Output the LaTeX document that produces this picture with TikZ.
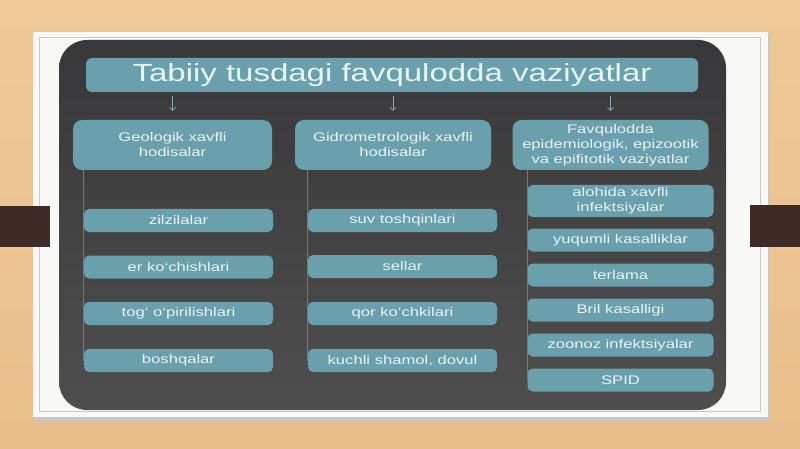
\documentclass[tikz,border=0pt]{standalone}
\usepackage{fontspec}
\setmainfont[FakeStretch=1.33]{Liberation Sans}
\usetikzlibrary{arrows.meta}
\definecolor{wood}{HTML}{E9C08C}
\definecolor{woodlight}{HTML}{EEC897}
\definecolor{framebg}{HTML}{F8F8F6}
\definecolor{frameline}{HTML}{C9C9C6}
\definecolor{paneltop}{HTML}{38383A}
\definecolor{panelbot}{HTML}{4E4E4E}
\definecolor{boxfill}{HTML}{6A9FAC}
\definecolor{boxtext}{HTML}{E6F5F7}
\definecolor{tab}{HTML}{3D2B27}
\definecolor{arrowc}{HTML}{8FA9AE}
\definecolor{linec}{HTML}{4E8A88}
\tikzset{
  hdrbox/.style={rounded corners=9pt, fill=boxfill, text=boxtext, align=center,
    inner sep=0pt, font=\fontsize{12.5}{15}\selectfont},
  itembox/.style={rounded corners=5pt, fill=boxfill, text=boxtext, align=center,
    inner sep=0pt, font=\fontsize{12.5}{15}\selectfont},
  titlebox/.style={rounded corners=6pt, fill=boxfill, text=boxtext, align=center,
    inner sep=0pt, font=\fontsize{24.8}{28}\selectfont},
  downarrow/.style={draw=arrowc, line width=0.7pt, -{Straight Barb[length=3pt,width=6pt]}},
  connline/.style={draw=linec, line width=0.8pt}
}
\begin{document}
\begin{tikzpicture}[x=1pt,y=-1pt]
\useasboundingbox (0,0) rectangle (800,449);
% background
\shade[top color=woodlight, bottom color=wood] (0,0) rectangle (800,449);
% white frame with shadow
\fill[black!22] (35,36) rectangle (770,421);
\fill[framebg] (33,32) rectangle (768,417);
\draw[frameline, line width=0.6pt] (39,37) rectangle (760,411);
% side tabs
\fill[tab] (0,206) rectangle (50,247);
\fill[tab] (750,205) rectangle (800,247);
% dark panel
\shade[top color=paneltop, bottom color=panelbot, rounded corners=28pt] (59,40) rectangle (726,410);

% title
\node[titlebox, minimum width=612pt, minimum height=34pt] (t) at (392,75) {Tabiiy tusdagi favqulodda vaziyatlar};

% headers
\node[hdrbox, minimum width=199pt, minimum height=50pt] (h1) at (172.5,145) {Geologik xavfli\\hodisalar};
\node[hdrbox, minimum width=196pt, minimum height=50pt] (h2) at (393,145) {Gidrometrologik xavfli\\hodisalar};
\node[hdrbox, minimum width=196pt, minimum height=50pt] (h3) at (610.5,145) {Favqulodda\\epidemiologik, epizootik\\va epifitotik vaziyatlar};

% column 1 items
\node[itembox, minimum width=189pt, minimum height=23pt] (a1) at (178.5,220.5) {zilzilalar};
\node[itembox, minimum width=189pt, minimum height=23pt] (a2) at (178.5,267) {er ko`chishlari};
\node[itembox, minimum width=189pt, minimum height=23pt] (a3) at (178.5,313.5) {tog` o`pirilishlari};
\node[itembox, minimum width=189pt, minimum height=23pt] (a4) at (178.5,360.5) {boshqalar};

% column 2 items
\node[itembox, minimum width=189pt, minimum height=23pt] (b1) at (402.5,220.5) {suv toshqinlari};
\node[itembox, minimum width=189pt, minimum height=23pt] (b2) at (402.5,266.5) {sellar};
\node[itembox, minimum width=189pt, minimum height=23pt] (b3) at (402.5,313.5) {qor ko`chkilari};
\node[itembox, minimum width=189pt, minimum height=23pt] (b4) at (402.5,360.5) {kuchli shamol, dovul};

% column 3 items
\node[itembox, minimum width=186pt, minimum height=32pt] (c1) at (620.5,201) {alohida xavfli\\infektsiyalar};
\node[itembox, minimum width=186pt, minimum height=23pt] (c2) at (620.5,240) {yuqumli kasalliklar};
\node[itembox, minimum width=186pt, minimum height=23pt] (c3) at (620.5,275) {terlama};
\node[itembox, minimum width=186pt, minimum height=23pt] (c4) at (620.5,310) {Bril kasalligi};
\node[itembox, minimum width=186pt, minimum height=23pt] (c5) at (620.5,345) {zoonoz infektsiyalar};
\node[itembox, minimum width=186pt, minimum height=23pt] (c6) at (620.5,380) {SPID};

% arrows from title to headers
\draw[downarrow, shorten <=4pt, shorten >=9pt] (t.south -| h1.north) -- (h1.north);
\draw[downarrow, shorten <=4pt, shorten >=9pt] (t.south -| h2.north) -- (h2.north);
\draw[downarrow, shorten <=4pt, shorten >=9pt] (t.south -| h3.north) -- (h3.north);

% vertical connectors
\draw[connline] (a1.west |- h1.south) -- (a4.west);
\draw[connline] (b1.west |- h2.south) -- (b4.west);
\draw[connline] (c1.west |- h3.south) -- (c6.west);
\end{tikzpicture}
\end{document}
